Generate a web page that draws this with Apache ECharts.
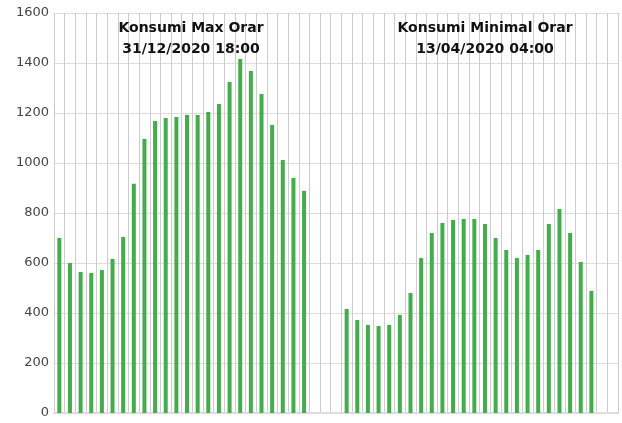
<!DOCTYPE html>
<html>
<head>
<meta charset="utf-8">
<script src="https://cdn.jsdelivr.net/npm/echarts@6/dist/echarts.min.js"></script>
<style>
  html, body { margin: 0; padding: 0; background: #fff; }
  #chart { width: 622px; height: 423px; }
</style>
</head>
<body>
<div id="chart"></div>
<script>
// hourly consumption (MW) on the max day and on the min day
const maxDay = [700, 600, 564, 560, 572, 616, 704, 917, 1096, 1168, 1180, 1184,
    1192, 1192, 1204, 1236, 1324, 1416, 1368, 1276, 1152, 1012, 940, 888];
const minDay = [416, 372, 352, 348, 352, 392, 480, 620, 720, 760, 772, 776,
    776, 756, 700, 652, 620, 632, 652, 756, 816, 720, 604, 488];
const gapBetween = 3;
const gapAfter = 2;
const maxTitle = 'Konsumi Max Orar\n31/12/2020 18:00';
const minTitle = 'Konsumi Minimal Orar\n13/04/2020 04:00';
const yTicks = { min: 0, max: 1600, interval: 200 };

const total = maxDay.length + gapBetween + minDay.length + gapAfter;
const categories = Array.from({ length: total }, (_, i) => String(i));

const pad = (n) => Array(n).fill(null);
const maxData = [...maxDay, ...pad(total - maxDay.length)];
const minData = [...pad(maxDay.length + gapBetween), ...minDay, ...pad(gapAfter)];

const font = '"DejaVu Sans", "Noto Sans", sans-serif';
const titleStyle = {
    fontSize: 14,
    fontWeight: 'bold',
    color: '#111',
    lineHeight: 21,
    fontFamily: font,
};

const chart = echarts.init(document.getElementById('chart'));

chart.setOption({
    animation: false,
    textStyle: { fontFamily: font },
    title: [
        { text: maxTitle, left: 186, top: 13, textAlign: 'center', textStyle: titleStyle },
        { text: minTitle, left: 480, top: 13, textAlign: 'center', textStyle: titleStyle },
    ],
    grid: { left: 54, right: 4, top: 13, bottom: 10 },
    xAxis: {
        type: 'category',
        data: categories,
        axisLabel: { show: false, interval: 0 },
        axisTick: { show: false, interval: 0 },
        axisLine: { lineStyle: { color: '#ddd', width: 2 } },
        splitLine: { show: true, interval: 0, lineStyle: { color: '#ccc', width: 1 } },
    },
    yAxis: {
        type: 'value',
        min: yTicks.min,
        max: yTicks.max,
        interval: yTicks.interval,
        axisLabel: { color: '#444', fontSize: 13, margin: 5, formatter: (v) => String(v) },
        axisLine: { show: false },
        axisTick: { show: false },
        splitLine: { lineStyle: { color: '#ddd', width: 1 } },
    },
    series: [
        {
            name: 'Max',
            type: 'bar',
            data: maxData,
            barWidth: 4,
            barGap: '-100%',
            itemStyle: { color: '#44ad4b' },
        },
        {
            name: 'Min',
            type: 'bar',
            data: minData,
            barWidth: 4,
            itemStyle: { color: '#44ad4b' },
        },
    ],
});

window.addEventListener('resize', chart.resize);
</script>
</body>
</html>
